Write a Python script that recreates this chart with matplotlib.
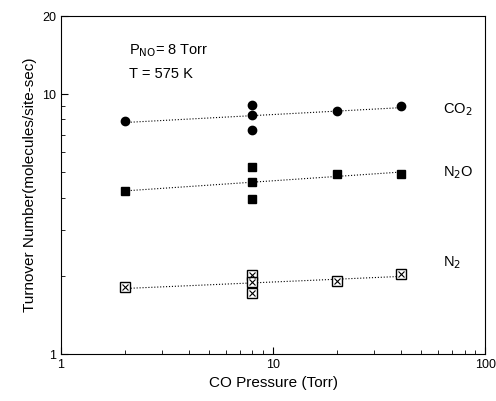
import numpy as np
import matplotlib
matplotlib.use("Agg")
import matplotlib.pyplot as plt
from matplotlib.ticker import FixedLocator, NullFormatter, LogLocator

plt.rcParams['font.family'] = ['Liberation Sans', 'DejaVu Sans']

# CO pressure (Torr) for each measurement
p_co = [2, 8, 8, 8, 20, 40]
co2 = [7.9, 9.1, 8.3, 7.3, 8.6, 9.0]
n2o = [4.25, 5.25, 4.6, 3.95, 4.95, 4.95]
n2 = [1.81, 2.01, 1.89, 1.72, 1.91, 2.03]

fig = plt.figure(figsize=(4.96, 4.01), dpi=100)
ax = fig.add_axes([0.123, 0.117, 0.855, 0.843])
ax.set_xscale('log')
ax.set_yscale('log')
ax.set_xlim(1, 100)
ax.set_ylim(1, 20)

def fit_line(x, y):
    lx, ly = np.log10(x), np.log10(y)
    k, b = np.polyfit(lx, ly, 1)
    xx = np.array([min(x), max(x)])
    return xx, 10 ** (k * np.log10(xx) + b)

for y in (co2, n2o, n2):
    xx, yy = fit_line(p_co, y)
    ax.plot(xx, yy, ':', color='black', lw=0.8, zorder=1)

ax.plot(p_co, co2, 'o', color='black', ms=6, zorder=3)
ax.plot(p_co, n2o, 's', color='black', ms=6, zorder=3)
ax.plot(p_co, n2, 's', mfc='white', mec='black', mew=1.0, ms=7, zorder=3)
ax.plot(p_co, n2, 'x', color='black', mew=0.8, ms=5, zorder=4)

ax.text(63, 8.7, 'CO$_2$', fontsize=10.5, va='center')
ax.text(63, 5.0, 'N$_2$O', fontsize=10.5, va='center')
ax.text(63, 2.25, 'N$_2$', fontsize=10.5, va='center')
ax.text(2.1, 14.7, 'P$_{\\mathrm{NO}}$= 8 Torr', fontsize=10.5, va='center')
ax.text(2.1, 12.0, 'T = 575 K', fontsize=10.5, va='center')

ax.yaxis.set_major_locator(FixedLocator([1, 10, 20]))
ax.set_yticklabels(['1', '10', '20'])
ax.yaxis.set_minor_locator(LogLocator(base=10, subs=np.arange(2, 10)))
ax.yaxis.set_minor_formatter(NullFormatter())
ax.xaxis.set_major_locator(FixedLocator([1, 10, 100]))
ax.set_xticklabels(['1', '10', '100'])
ax.xaxis.set_minor_locator(LogLocator(base=10, subs=np.arange(2, 10)))
ax.xaxis.set_minor_formatter(NullFormatter())
ax.tick_params(which='both', direction='in', labelsize=9)
ax.tick_params(which='major', length=5)
ax.tick_params(which='minor', length=3)

ax.set_xlabel('CO Pressure (Torr)', fontsize=11)
ax.set_ylabel('Turnover Number(molecules/site-sec)', fontsize=11)

fig.savefig('out.png', dpi=100)
